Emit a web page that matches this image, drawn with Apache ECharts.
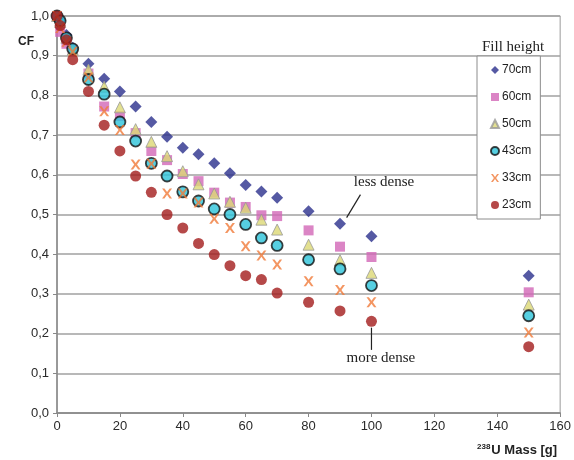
<!DOCTYPE html>
<html>
<head>
<meta charset="utf-8">
<script src="https://cdn.jsdelivr.net/npm/echarts@6/dist/echarts.min.js"></script>
<style>
    html, body { margin: 0; padding: 0; background: #fff; }
    #chart_cf { width: 574px; height: 460px; }
</style>
</head>
<body>
<div id="chart_cf"></div>
<script>
// 238U mass [g]
var massValues = [0, 1, 3, 5, 10, 15, 20, 25, 30, 35, 40, 45, 50, 55, 60, 65, 70, 80, 90, 100, 150];

var fill70 = [1.0, 0.99, 0.952, 0.92, 0.88, 0.842, 0.81, 0.772, 0.733, 0.696, 0.668, 0.652, 0.629, 0.604, 0.574, 0.558, 0.542, 0.508, 0.477, 0.445, 0.346];
var fill60 = [1.0, 0.96, 0.93, 0.915, 0.855, 0.772, 0.748, 0.705, 0.66, 0.637, 0.602, 0.584, 0.555, 0.53, 0.519, 0.498, 0.496, 0.46, 0.419, 0.393, 0.304];
var fill50 = [1.0, 0.985, 0.945, 0.915, 0.865, 0.822, 0.77, 0.715, 0.683, 0.647, 0.609, 0.576, 0.553, 0.532, 0.517, 0.487, 0.462, 0.424, 0.385, 0.353, 0.273];
var fill43 = [1.0, 0.988, 0.945, 0.917, 0.84, 0.803, 0.733, 0.685, 0.629, 0.597, 0.557, 0.534, 0.514, 0.5, 0.475, 0.441, 0.422, 0.386, 0.363, 0.321, 0.245];
var fill33 = [1.0, 0.97, 0.935, 0.91, 0.845, 0.76, 0.713, 0.626, 0.628, 0.553, 0.553, 0.53, 0.489, 0.466, 0.42, 0.397, 0.374, 0.332, 0.31, 0.279, 0.203];
var fill23 = [1.0, 0.976, 0.94, 0.89, 0.81, 0.725, 0.66, 0.597, 0.556, 0.5, 0.466, 0.427, 0.399, 0.371, 0.346, 0.336, 0.302, 0.279, 0.257, 0.231, 0.167];

var seriesNames = ['70cm', '60cm', '50cm', '43cm', '33cm', '23cm'];

var chartDom = document.getElementById('chart_cf');
var chartInstance = echarts.init(chartDom, null, { renderer: 'canvas' });

var crossPath = 'path://M0,0 L2.4,0 L5,3.6 L7.6,0 L10,0 L6.4,5 L10,10 L7.6,10 L5,6.4 L2.4,10 L0,10 L3.6,5 Z';

function pairs(values) {
    var out = [];
    for (var i = 0; i < massValues.length; i++) {
        out.push([massValues[i], values[i]]);
    }
    return out;
}

function makeSeries(name, values, symbol, size, itemStyle) {
    return {
        name: name,
        type: 'scatter',
        symbol: symbol,
        symbolSize: size,
        itemStyle: itemStyle,
        data: pairs(values)
    };
}

function tickLabel(v) {
    return v.toFixed(1).replace('.', ',');
}

var chartOption = {
    animation: false,
    backgroundColor: '#ffffff',
    textStyle: { fontFamily: 'Liberation Sans' },
    title: {
        text: 'Fill height',
        left: 477,
        top: 35,
        textStyle: { fontFamily: 'Liberation Serif', fontSize: 15, fontWeight: 'normal', color: '#222' }
    },
    legend: {
        orient: 'vertical',
        left: 477,
        top: 56,
        backgroundColor: '#ffffff',
        borderColor: '#8c8c8c',
        borderWidth: 1,
        padding: [7, 9, 7, 13],
        itemWidth: 8,
        itemHeight: 8,
        itemGap: 13,
        textStyle: { fontSize: 12, color: '#222', lineHeight: 14, padding: [0, 0, 0, -2] },
        data: seriesNames
    },
    grid: {
        left: 57,
        right: 10,
        top: 16,
        bottom: 47,
        show: true,
        borderColor: '#9a9a9a',
        borderWidth: 1
    },
    xAxis: {
        type: 'value',
        min: 0,
        max: 160,
        interval: 20,
        axisLine: { lineStyle: { color: '#888', width: 1.5 } },
        axisTick: { show: true, length: 4, lineStyle: { color: '#888' } },
        axisLabel: { fontSize: 13, color: '#2a2a2a', margin: 7 },
        splitLine: { show: false }
    },
    yAxis: {
        type: 'value',
        min: 0,
        max: 1,
        interval: 0.1,
        axisLine: { show: true, lineStyle: { color: '#888', width: 1.5 } },
        axisTick: { show: true, length: 4, lineStyle: { color: '#888' } },
        axisLabel: { fontSize: 13, color: '#2a2a2a', margin: 8, formatter: tickLabel },
        splitLine: { lineStyle: { color: '#a0a0a0', width: 1.5 } }
    },
    series: [
        makeSeries('70cm', fill70, 'diamond', 12, { color: '#2b2f8c' }),
        makeSeries('60cm', fill60, 'rect', 10, { color: '#d266b6' }),
        makeSeries('50cm', fill50, 'triangle', 11, { color: '#dcd874', borderColor: '#999', borderWidth: 1 }),
        makeSeries('43cm', fill43, 'circle', 11, { color: '#2cc3da', borderColor: '#111', borderWidth: 1.8 }),
        makeSeries('33cm', fill33, crossPath, 10, { color: '#f07a3a' }),
        makeSeries('23cm', fill23, 'circle', 11, { color: '#a31c1c' })
    ]
};

chartInstance.setOption(chartOption);

// annotations, anchored in data space
var lessDenseText = [104, 0.581];
var lessDenseLine = [[96.5, 0.55], [92.1, 0.492]];
var moreDenseText = [103, 0.139];
var moreDenseLine = [[100, 0.215], [100, 0.159]];

function px(p) {
    return chartInstance.convertToPixel({ gridIndex: 0 }, p);
}

var ld = px(lessDenseText), md = px(moreDenseText);
var l1 = px(lessDenseLine[0]), l2 = px(lessDenseLine[1]);
var m1 = px(moreDenseLine[0]), m2 = px(moreDenseLine[1]);

chartInstance.setOption({
    graphic: [
        {
            type: 'text', left: 18, top: 36,
            style: { text: 'CF', font: 'bold 12px "Liberation Sans"', fill: '#222' }
        },
        {
            type: 'text', left: 477, top: 443,
            style: {
                text: '{s|238}{m|U Mass [g]}',
                rich: {
                    s: { fontSize: 8, fontWeight: 'bold', fill: '#222', verticalAlign: 'top', padding: [0, 1, 6, 0] },
                    m: { fontSize: 13, fontWeight: 'bold', fill: '#222', fontFamily: 'Liberation Sans' }
                }
            }
        },
        {
            type: 'text', x: ld[0], y: ld[1],
            style: { text: 'less dense', font: '15px "Liberation Serif"', fill: '#222', align: 'center', verticalAlign: 'middle' }
        },
        {
            type: 'text', x: md[0], y: md[1],
            style: { text: 'more dense', font: '15px "Liberation Serif"', fill: '#222', align: 'center', verticalAlign: 'middle' }
        },
        {
            type: 'line', shape: { x1: l1[0], y1: l1[1], x2: l2[0], y2: l2[1] },
            style: { stroke: '#222', lineWidth: 1.2 }
        },
        {
            type: 'line', shape: { x1: m1[0], y1: m1[1], x2: m2[0], y2: m2[1] },
            style: { stroke: '#222', lineWidth: 1.2 }
        }
    ]
});
</script>
</body>
</html>
